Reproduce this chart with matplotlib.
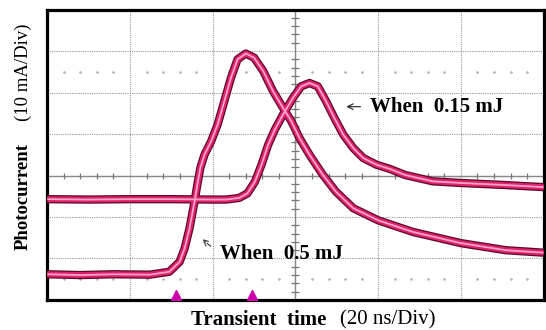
import numpy as np
import matplotlib.pyplot as plt

# time axis in divisions (20 ns/Div), current in divisions (10 mA/Div)
t_high = [0.0, 0.4, 0.8, 1.24, 1.475, 1.60, 1.66, 1.72, 1.78, 1.82, 1.85, 1.90, 1.98,
          2.06, 2.14, 2.22, 2.30, 2.40, 2.50, 2.61, 2.73, 2.85, 2.95, 3.05, 3.17,
          3.33, 3.49, 3.70, 4.0, 4.42, 5.0, 5.54, 6.0]
i_high = [0.62, 0.60, 0.62, 0.61, 0.68, 0.92, 1.24, 1.73, 2.37, 2.85, 3.18, 3.50, 3.82,
          4.23, 4.79, 5.35, 5.80, 5.94, 5.84, 5.52, 5.03, 4.63, 4.31, 3.90, 3.50,
          3.02, 2.61, 2.21, 1.92, 1.64, 1.37, 1.20, 1.14]

t_low = [0.0, 0.5, 1.0, 1.5, 2.0, 2.16, 2.32, 2.42, 2.51, 2.59, 2.67, 2.75, 2.85, 2.97,
         3.07, 3.17, 3.27, 3.37, 3.47, 3.58, 3.70, 3.82, 3.98, 4.14, 4.33, 4.66,
         5.0, 5.54, 6.0]
i_low = [2.43, 2.42, 2.43, 2.43, 2.42, 2.42, 2.46, 2.57, 2.85, 3.26, 3.74, 4.10, 4.47, 4.87,
         5.15, 5.23, 5.15, 4.79, 4.39, 3.98, 3.66, 3.42, 3.26, 3.16, 3.01, 2.86,
         2.82, 2.77, 2.72]

trigger_marks = [1.56, 2.47]

fig = plt.figure(figsize=(5.46, 3.30), dpi=100)
ax = fig.add_axes([0.0866, 0.091, 0.909, 0.88])
ax.set_xlim(0, 6)
ax.set_ylim(0, 7)

# scope graticule
for gx in range(1, 6):
    ax.axvline(gx, color='#999999', lw=0.8, ls=(0, (1, 1)), zorder=1)
for gy in range(1, 7):
    ax.axhline(gy, color='#999999', lw=0.8, ls=(0, (1, 1)), zorder=1)
ax.axhline(3, color='#888888', lw=1.0, zorder=1)
ax.axvline(3, color='#888888', lw=1.0, zorder=1)
xsub = [s / 5 for s in range(1, 30) if s % 5 != 0]
ysub = [s / 5 for s in range(1, 35) if s % 5 != 0]
ax.plot(xsub, [3] * len(xsub), ls='none', marker='|', ms=5, color='#777777', mew=0.9, zorder=1)
ax.plot([3] * len(ysub), ysub, ls='none', marker='_', ms=6, color='#777777', mew=0.9, zorder=1)
for ry in [5.5, 0.5]:
    ax.plot(xsub, [ry] * len(xsub), ls='none', marker='.', ms=1.6, color='#aaaaaa', zorder=1)

# traces, drawn in layers to mimic the scope phosphor
for tt, ii in [(t_high, i_high), (t_low, i_low)]:
    ax.plot(tt, ii, color='#5a0a28', lw=6.0, solid_capstyle='butt', solid_joinstyle='round', zorder=3)
    ax.plot(tt, ii, color='#e0206e', lw=4.2, solid_capstyle='butt', solid_joinstyle='round', zorder=4)
    ax.plot(tt, ii, color='#f7a6c8', lw=1.3, solid_capstyle='butt', solid_joinstyle='round', zorder=5)

ax.plot(trigger_marks, [0.12, 0.12], ls='none', marker='^', ms=7, color='#cc00aa', zorder=6)

for s in ax.spines.values():
    s.set_linewidth(2.3)
ax.set_xticks([])
ax.set_yticks([])

ax.annotate('', xy=(3.58, 4.66), xytext=(3.82, 4.66),
            arrowprops=dict(arrowstyle='->', color='#333333', lw=0.9), zorder=7)
ax.text(3.9, 4.66, 'When  0.15 mJ', fontsize=15, fontweight='bold',
        family='Liberation Serif', va='center', ha='left', zorder=7)
ax.annotate('', xy=(1.85, 1.51), xytext=(2.0, 1.25),
            arrowprops=dict(arrowstyle='->', color='#444444', lw=0.9, ls='--'), zorder=7)
ax.text(2.09, 1.12, 'When  0.5 mJ', fontsize=15, fontweight='bold',
        family='Liberation Serif', va='center', ha='left', zorder=7)

fig.text(0.597, 0.03, 'Transient  time', fontsize=15, fontweight='bold',
         family='Liberation Serif', ha='right', va='center')
fig.text(0.623, 0.03, '(20 ns/Div)', fontsize=15,
         family='Liberation Serif', ha='left', va='center')
fig.text(0.042, 0.406, 'Photocurrent', fontsize=13.5, fontweight='bold',
         family='Liberation Serif', ha='center', va='center', rotation=90)
fig.text(0.042, 0.782, '(10 mA/Div)', fontsize=13.5,
         family='Liberation Serif', ha='center', va='center', rotation=90)

fig.savefig('out.png', dpi=100)
